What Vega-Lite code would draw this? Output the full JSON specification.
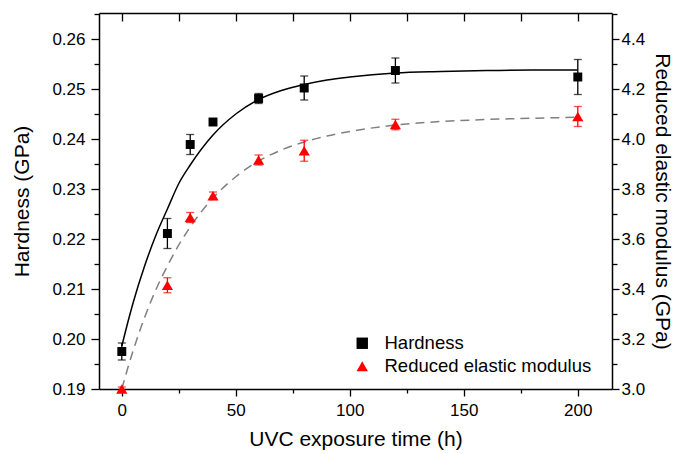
{
  "$schema": "https://vega.github.io/schema/vega-lite/v6.json",
  "width": 513,
  "height": 376,
  "autosize": {"type": "none"},
  "padding": {"left": 99, "top": 13, "right": 65, "bottom": 65},
  "config": {
    "font": "Liberation Sans",
    "view": {"stroke": null},
    "axis": {
      "grid": false,
      "labelFont": "Liberation Sans",
      "titleFont": "Liberation Sans",
      "labelColor": "black",
      "titleColor": "black",
      "domainColor": "black",
      "tickColor": "black",
      "domainWidth": 1.5,
      "tickWidth": 1.3,
      "labelFontSize": 17,
      "titleFontSize": 21,
      "titleFontWeight": "normal"
    },
    "legend": {
      "orient": "none",
      "legendX": 254,
      "legendY": 321,
      "labelFont": "Liberation Sans",
      "labelFontSize": 18.5,
      "labelColor": "black",
      "labelLimit": 400,
      "symbolSize": 130,
      "labelOffset": 13,
      "rowPadding": 4,
      "padding": 0,
      "symbolStrokeWidth": 0
    }
  },
  "datasets": {
    "hard": [
      {"t": 0, "v": 0.1975, "e": 0.0017, "series": "Hardness"},
      {"t": 20, "v": 0.2211, "e": 0.003, "series": "Hardness"},
      {"t": 30, "v": 0.2389, "e": 0.002, "series": "Hardness"},
      {"t": 40, "v": 0.2434, "e": 0.0004, "series": "Hardness"},
      {"t": 60, "v": 0.2481, "e": 0.001, "series": "Hardness"},
      {"t": 80, "v": 0.2502, "e": 0.0024, "series": "Hardness"},
      {"t": 120, "v": 0.2537, "e": 0.0025, "series": "Hardness"},
      {"t": 200, "v": 0.2524, "e": 0.0035, "series": "Hardness"}
    ],
    "hardfit": [
      {"t": 0, "v": 0.1986}, {"t": 2.5, "v": 0.2031}, {"t": 5, "v": 0.2073},
      {"t": 10, "v": 0.2146}, {"t": 15, "v": 0.2208}, {"t": 20, "v": 0.226},
      {"t": 25, "v": 0.2311}, {"t": 30, "v": 0.2348}, {"t": 40, "v": 0.2408},
      {"t": 50, "v": 0.245}, {"t": 60, "v": 0.2479}, {"t": 70, "v": 0.2497},
      {"t": 80, "v": 0.2509}, {"t": 90, "v": 0.2518}, {"t": 100, "v": 0.2524},
      {"t": 120, "v": 0.2532}, {"t": 140, "v": 0.2535}, {"t": 160, "v": 0.2537},
      {"t": 180, "v": 0.2538}, {"t": 200, "v": 0.2538}
    ],
    "mod": [
      {"t": 0, "v": 3.0, "e": 0.008, "series": "Reduced elastic modulus"},
      {"t": 20, "v": 3.415, "e": 0.03, "series": "Reduced elastic modulus"},
      {"t": 30, "v": 3.686, "e": 0.02, "series": "Reduced elastic modulus"},
      {"t": 40, "v": 3.773, "e": 0.015, "series": "Reduced elastic modulus"},
      {"t": 60, "v": 3.916, "e": 0.02, "series": "Reduced elastic modulus"},
      {"t": 80, "v": 3.953, "e": 0.042, "series": "Reduced elastic modulus"},
      {"t": 120, "v": 4.058, "e": 0.021, "series": "Reduced elastic modulus"},
      {"t": 200, "v": 4.09, "e": 0.04, "series": "Reduced elastic modulus"}
    ],
    "modfit": [
      {"t": 0, "v": 3.0}, {"t": 2.5, "v": 3.08}, {"t": 5, "v": 3.154},
      {"t": 10, "v": 3.286}, {"t": 15, "v": 3.398}, {"t": 20, "v": 3.492},
      {"t": 25, "v": 3.576}, {"t": 30, "v": 3.648}, {"t": 40, "v": 3.764},
      {"t": 50, "v": 3.849}, {"t": 60, "v": 3.912}, {"t": 70, "v": 3.956},
      {"t": 80, "v": 3.988}, {"t": 90, "v": 4.012}, {"t": 100, "v": 4.03},
      {"t": 120, "v": 4.056}, {"t": 140, "v": 4.07}, {"t": 160, "v": 4.078},
      {"t": 180, "v": 4.083}, {"t": 200, "v": 4.087}
    ]
  },
  "layer": [
    {
      "layer": [
        {
          "data": {"name": "hardfit"},
          "mark": {"type": "line", "color": "black", "strokeWidth": 1.5, "interpolate": "monotone"},
          "encoding": {
            "x": {
              "field": "t", "type": "quantitative",
              "scale": {"domain": [-10, 215], "nice": false, "zero": false},
              "axis": {
                "orient": "bottom",
                "title": "UVC exposure time (h)",
                "values": [0, 50, 100, 150, 200],
                "tickSize": 7,
                "labelPadding": 6,
                "titlePadding": 10
              }
            },
            "y": {
              "field": "v", "type": "quantitative",
              "scale": {"domain": [0.19, 0.2652], "nice": false, "zero": false},
              "axis": {
                "orient": "left",
                "title": "Hardness (GPa)",
                "values": [0.19, 0.2, 0.21, 0.22, 0.23, 0.24, 0.25, 0.26],
                "format": ".2f",
                "tickSize": 8,
                "labelPadding": 6,
                "titlePadding": 19
              }
            }
          }
        },
        {
          "data": {"name": "hard"},
          "mark": {"type": "errorbar", "ticks": true, "size": 8, "thickness": 1.3, "color": "black"},
          "encoding": {
            "x": {
              "field": "t", "type": "quantitative",
              "scale": {"domain": [-10, 215], "nice": false, "zero": false},
              "axis": {"orient": "bottom", "title": null, "labels": false, "domain": false, "values": [25, 75, 125, 175], "tickSize": 4}
            },
            "y": {
              "field": "v", "type": "quantitative",
              "scale": {"domain": [0.19, 0.2652], "nice": false, "zero": false},
              "axis": {"orient": "left", "title": null, "labels": false, "domain": false, "values": [0.195, 0.205, 0.215, 0.225, 0.235, 0.245, 0.255, 0.265], "tickSize": 5}
            },
            "yError": {"field": "e"}
          }
        },
        {
          "data": {"name": "hard"},
          "mark": {"type": "point", "filled": true, "opacity": 1, "size": 80},
          "encoding": {
            "x": {"field": "t", "type": "quantitative", "scale": {"domain": [-10, 215], "nice": false, "zero": false}, "axis": null},
            "y": {"field": "v", "type": "quantitative", "scale": {"domain": [0.19, 0.2652], "nice": false, "zero": false}, "axis": null},
            "color": {"field": "series", "type": "nominal", "scale": {"domain": ["Hardness", "Reduced elastic modulus"], "range": ["#000000", "#ff0000"]}, "legend": {"title": null}},
            "shape": {"field": "series", "type": "nominal", "scale": {"domain": ["Hardness", "Reduced elastic modulus"], "range": ["square", "triangle-up"]}, "legend": {"title": null}}
          }
        }
      ],
      "resolve": {"axis": {"x": "independent", "y": "independent"}}
    },
    {
      "layer": [
        {
          "data": {"name": "modfit"},
          "mark": {"type": "line", "color": "#808080", "strokeWidth": 1.5, "strokeDash": [9, 6], "interpolate": "monotone"},
          "encoding": {
            "x": {
              "field": "t", "type": "quantitative",
              "scale": {"domain": [-10, 215], "nice": false, "zero": false},
              "axis": {
                "orient": "top",
                "title": null,
                "labels": false,
                "values": [0, 25, 50, 75, 100, 125, 150, 175, 200],
                "tickSize": -8
              }
            },
            "y": {
              "field": "v", "type": "quantitative",
              "scale": {"domain": [3.0, 4.504], "nice": false, "zero": false},
              "axis": {
                "orient": "right",
                "title": "Reduced elastic modulus (GPa)",
                "values": [3.0, 3.2, 3.4, 3.6, 3.8, 4.0, 4.2, 4.4],
                "format": ".1f",
                "tickSize": 7,
                "labelPadding": 2,
                "titlePadding": 7
              }
            }
          }
        },
        {
          "data": {"name": "mod"},
          "mark": {"type": "errorbar", "ticks": true, "size": 8, "thickness": 1.3, "color": "#ff0000"},
          "encoding": {
            "x": {"field": "t", "type": "quantitative", "scale": {"domain": [-10, 215], "nice": false, "zero": false}, "axis": null},
            "y": {
              "field": "v", "type": "quantitative",
              "scale": {"domain": [3.0, 4.504], "nice": false, "zero": false},
              "axis": {"orient": "right", "title": null, "labels": false, "domain": false, "values": [3.1, 3.3, 3.5, 3.7, 3.9, 4.1, 4.3, 4.5], "tickSize": 5}
            },
            "yError": {"field": "e"}
          }
        },
        {
          "data": {"name": "mod"},
          "mark": {"type": "point", "filled": true, "opacity": 1, "size": 125},
          "encoding": {
            "x": {"field": "t", "type": "quantitative", "scale": {"domain": [-10, 215], "nice": false, "zero": false}, "axis": null},
            "y": {"field": "v", "type": "quantitative", "scale": {"domain": [3.0, 4.504], "nice": false, "zero": false}, "axis": null},
            "color": {"field": "series", "type": "nominal", "scale": {"domain": ["Hardness", "Reduced elastic modulus"], "range": ["#000000", "#ff0000"]}, "legend": {"title": null}},
            "shape": {"field": "series", "type": "nominal", "scale": {"domain": ["Hardness", "Reduced elastic modulus"], "range": ["square", "triangle-up"]}, "legend": {"title": null}}
          }
        }
      ],
      "resolve": {"axis": {"x": "independent", "y": "independent"}}
    }
  ],
  "resolve": {"scale": {"y": "independent"}, "axis": {"x": "independent"}}
}
